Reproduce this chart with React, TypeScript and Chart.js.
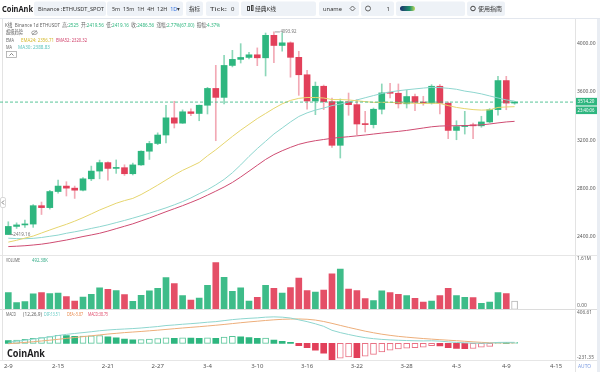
import React, { useEffect, useRef } from 'react';
import { Chart, registerables } from 'chart.js';

Chart.register(...registerables);

const FONT = '"Noto Sans", "Noto Sans CJK SC", sans-serif';
const UP = '#2EB67F';
const DOWN = '#E2405A';
const GRAY = '#666';

// ---- data (daily candles, Binance ETHUSDT) ----
const dates = [
  '2-9', '2-10', '2-11', '2-12', '2-13', '2-14', '2-15', '2-16', '2-17', '2-18',
  '2-19', '2-20', '2-21', '2-22', '2-23', '2-24', '2-25', '2-26', '2-27', '2-28',
  '2-29', '3-1', '3-2', '3-3', '3-4', '3-5', '3-6', '3-7', '3-8', '3-9',
  '3-10', '3-11', '3-12', '3-13', '3-14', '3-15', '3-16', '3-17', '3-18', '3-19',
  '3-20', '3-21', '3-22', '3-23', '3-24', '3-25', '3-26', '3-27', '3-28', '3-29',
  '3-30', '3-31', '4-1', '4-2', '4-3', '4-4', '4-5', '4-6', '4-7', '4-8',
  '4-9', '4-10',
];
const opens = [
  2419.56, 2486.56, 2499, 2506, 2658, 2642, 2775, 2820, 2803, 2786,
  2880, 2944, 3014, 2966, 2972, 2922, 2995, 3108, 3172, 3242,
  3384, 3340, 3434, 3420, 3488, 3627, 3553, 3817, 3867, 3883,
  3905, 3880, 4066, 3982, 4004, 3884, 3740, 3523, 3645, 3518,
  3157, 3517, 3493, 3333, 3328, 3455, 3590, 3587, 3500, 3560,
  3512, 3506, 3645, 3505, 3280, 3312, 3322, 3318, 3350, 3452,
  3692, 3506,
];
const highs = [
  2525, 2516, 2540, 2667, 2688, 2785, 2870, 2856, 2820, 2890,
  2985, 3035, 3020, 3036, 2996, 3010, 3112, 3190, 3260, 3488,
  3521, 3450, 3458, 3490, 3636, 3818, 3901, 3942, 3997, 3925,
  3962, 4085, 4093.92, 4087, 4012, 3934, 3776, 3680, 3655, 3548,
  3540, 3589, 3534, 3438, 3465, 3664, 3670, 3664, 3614, 3581,
  3562, 3658, 3658, 3515, 3360, 3438, 3341, 3397, 3460, 3727,
  3727, 3520,
];
const lows = [
  2419.16, 2470, 2478, 2479, 2585, 2630, 2762, 2738, 2718, 2780,
  2865, 2880, 2868, 2925, 2908, 2912, 2990, 3040, 3162, 3176,
  3300, 3338, 3402, 3360, 3416, 3195, 3498, 3805, 3837, 3870,
  3815, 3730, 3840, 3935, 3720, 3570, 3455, 3410, 3452, 3140,
  3052, 3405, 3245, 3267, 3300, 3416, 3548, 3465, 3465, 3443,
  3488, 3498, 3416, 3212, 3203, 3250, 3212, 3306, 3342, 3405,
  3451, 3496,
];
const closes = [
  2486.56, 2499, 2506, 2658, 2642, 2775, 2820, 2803, 2786, 2880,
  2944, 3014, 2966, 2972, 2922, 2995, 3108, 3172, 3242, 3384,
  3340, 3434, 3420, 3488, 3627, 3553, 3817, 3867, 3883, 3905,
  3880, 4066, 3982, 4004, 3884, 3740, 3523, 3645, 3518, 3157,
  3517, 3493, 3333, 3328, 3455, 3590, 3587, 3500, 3560, 3512,
  3506, 3645, 3505, 3280, 3312, 3322, 3318, 3350, 3452, 3692,
  3506, 3514.2,
];
// volume in thousands (K)
const volumes = [
  492.38, 198, 227, 455, 494, 465, 484, 376, 247, 366,
  445, 633, 593, 554, 435, 237, 415, 544, 623, 939,
  761, 405, 277, 336, 712, 1384, 949, 534, 633, 247,
  356, 712, 623, 484, 643, 929, 554, 514, 573, 1048,
  1196, 603, 554, 316, 257, 544, 494, 445, 405, 326,
  217, 247, 405, 623, 405, 356, 346, 178, 217, 494,
  465, 247,
];
const ema24 = [
  2357, 2372, 2390, 2407, 2432, 2457, 2481, 2504, 2530, 2559,
  2590, 2622, 2650, 2678, 2700, 2718, 2750, 2788, 2828, 2870,
  2912, 2950, 2982, 3015, 3070, 3120, 3175, 3230, 3282, 3330,
  3378, 3420, 3462, 3500, 3528, 3545, 3552, 3552, 3548, 3535,
  3535, 3532, 3525, 3518, 3512, 3512, 3512, 3508, 3506, 3504,
  3502, 3505, 3503, 3485, 3470, 3460, 3452, 3448, 3450, 3470,
  3474, 3476,
];
const ema52 = [
  2320, 2323, 2327, 2333, 2340, 2350, 2362, 2374, 2388, 2403,
  2416, 2430, 2448, 2468, 2488, 2508, 2532, 2556, 2582, 2608,
  2633, 2658, 2685, 2713, 2745, 2778, 2812, 2850, 2895, 2943,
  2992, 3040, 3080, 3112, 3140, 3165, 3182, 3195, 3205, 3215,
  3222, 3228, 3235, 3242, 3250, 3258, 3265, 3272, 3280, 3290,
  3300, 3310, 3316, 3318, 3319, 3320, 3322, 3326, 3333, 3342,
  3350, 3355,
];
const ma30 = [
  2389, 2386, 2385, 2388, 2395, 2405, 2415, 2430, 2442, 2455,
  2470, 2484, 2500, 2518, 2536, 2555, 2575, 2596, 2618, 2640,
  2665, 2692, 2722, 2757, 2790, 2830, 2875, 2930, 2995, 3065,
  3130, 3190, 3250, 3300, 3350, 3395, 3425, 3448, 3465, 3485,
  3498, 3515, 3532, 3550, 3568, 3585, 3598, 3608, 3616, 3623,
  3630, 3636, 3634, 3628, 3620, 3605, 3595, 3582, 3565, 3548,
  3532, 3522,
];
const dif = [
  13.51, 28, 42, 58, 73, 90, 108, 124, 136, 148,
  160, 174, 184, 192, 198, 204, 212, 222, 232, 246,
  254, 264, 272, 281, 292, 300, 314, 328, 338, 346,
  352, 362, 366, 362, 350, 325, 300, 270, 235, 180,
  148, 122, 98, 78, 64, 54, 47, 42, 38, 35,
  33, 35, 30, 20, 12, 6, 2, 0, 2, 12,
  13, 13,
];
const dea = [
  -5.87, 3, 12, 22, 32, 43, 55, 68, 80, 92,
  104, 116, 128, 138, 148, 156, 164, 173, 182, 192,
  202, 212, 221, 230, 240, 250, 261, 273, 285, 296,
  306, 316, 325, 332, 336, 337, 333, 322, 302, 276,
  248, 220, 194, 168, 146, 126, 110, 96, 85, 75,
  66, 58, 50, 43, 36, 28, 20, 13, 8, 6,
  6, 7,
];
const macdHist = [
  38.75, 45, 55, 68, 80, 92, 112, 108, 98, 100,
  104, 108, 90, 75, 58, 48, 52, 60, 66, 76,
  70, 74, 71, 68, 75, 70, 85, 95, 88, 80,
  68, 72, 44, 28, 8, -34, -60, -94, -137, -231.35,
  -205, -190, -198, -180, -154, -120, -94, -77, -68, -62,
  -52, -32, -38, -60, -70, -74, -72, -55, -42, 6,
  4, 5,
];
const axisLabels = ['2-9', '2-15', '2-21', '2-27', '3-4', '3-10', '3-16', '3-22', '3-28', '4-3', '4-9', '4-15'];
const priceTicks = [2400, 2800, 3200, 3600, 4000];
const lastPrice = 3514.2;
const countdown = '23:40:06';
const volAxisMax = 1610; // K
const macdTop = 406.61;
const macdBottom = -231.35;

function drawRich(
  ctx: CanvasRenderingContext2D, x: number, y: number,
  segs: [string, string][], size: number, targetW?: number, weight = 'normal',
) {
  ctx.save();
  ctx.font = `${weight} ${size}px ${FONT}`;
  const total = segs.reduce((s, [t]) => s + ctx.measureText(t).width, 0);
  const sx = targetW ? targetW / total : 1;
  ctx.translate(x, y);
  ctx.scale(sx, 1);
  ctx.textBaseline = 'middle';
  ctx.textAlign = 'left';
  let cx = 0;
  for (const [t, c] of segs) {
    ctx.fillStyle = c;
    ctx.fillText(t, cx, 0);
    cx += ctx.measureText(t).width;
  }
  ctx.restore();
}

function hline(ctx: CanvasRenderingContext2D, x0: number, x1: number, y: number, color: string) {
  ctx.strokeStyle = color;
  ctx.lineWidth = 1;
  ctx.beginPath();
  ctx.moveTo(x0, Math.round(y) + 0.5);
  ctx.lineTo(x1, Math.round(y) + 0.5);
  ctx.stroke();
}

function tbBox(ctx: CanvasRenderingContext2D, x0: number, x1: number) {
  ctx.fillStyle = '#eef2f7';
  ctx.beginPath();
  (ctx as any).roundRect(x0, 1.5, x1 - x0, 14.5, 2);
  ctx.fill();
}

function drawToolbar(ctx: CanvasRenderingContext2D) {
  const ty = 8.8;
  drawRich(ctx, 2, ty, [['CoinAnk', '#1d1d1f']], 9.5, 31, 'bold');
  tbBox(ctx, 34, 106);
  drawRich(ctx, 38, ty, [['Binance :ETHUSDT_SPOT', '#333']], 6, 66);
  tbBox(ctx, 107, 183);
  drawRich(ctx, 112, ty, [['5m  15m  1H  4H  12H  ', '#333'], ['1D', '#2f6fe0'], ['▾', '#333']], 6, 68);
  tbBox(ctx, 186, 203);
  drawRich(ctx, 189, ty, [['指标', '#333']], 6, 11);
  tbBox(ctx, 206, 239);
  drawRich(ctx, 210, ty, [['Tick:', '#333']], 6, 17);
  drawRich(ctx, 231, ty, [['0', '#333']], 6);
  tbBox(ctx, 241, 316);
  ctx.strokeStyle = '#444';
  ctx.lineWidth = 1;
  ctx.strokeRect(247.5, 6.5, 2, 4);
  ctx.strokeRect(251.5, 5.5, 1.5, 5);
  drawRich(ctx, 255, ty, [['经典K线', '#333']], 6, 21);
  tbBox(ctx, 319, 359);
  drawRich(ctx, 323, ty, [['uname', '#333']], 6, 19);
  ctx.strokeStyle = '#666';
  ctx.beginPath();
  ctx.moveTo(350, 8.5); ctx.lineTo(352.5, 6); ctx.lineTo(355, 8.5); ctx.lineTo(352.5, 11); ctx.closePath();
  ctx.stroke();
  tbBox(ctx, 361, 394);
  ctx.beginPath();
  ctx.arc(368, 8.5, 2.5, 0, Math.PI * 2);
  ctx.stroke();
  drawRich(ctx, 386.5, ty, [['1', '#333']], 6);
  tbBox(ctx, 396, 465);
  const g = ctx.createLinearGradient(400, 0, 416, 0);
  g.addColorStop(0, '#1b2f6e');
  g.addColorStop(0.6, '#1d8f6a');
  g.addColorStop(1, '#d9e45a');
  ctx.fillStyle = g;
  ctx.beginPath();
  (ctx as any).roundRect(400, 6, 15, 5, 2.5);
  ctx.fill();
  tbBox(ctx, 467, 505);
  ctx.strokeStyle = '#444';
  ctx.beginPath();
  ctx.arc(473, 8.5, 2.3, 0, Math.PI * 2);
  ctx.stroke();
  drawRich(ctx, 478, ty, [['使用指南', '#333']], 6, 24);
  hline(ctx, 0, 600, 18, '#e3e7ee');
}

const overlay = {
  id: 'overlay',
  afterDraw(chart: any) {
    const { ctx, chartArea, scales } = chart;
    const yP = scales.yPrice;
    const yV = scales.yVol;
    const yM = scales.yMacd;
    const xs = scales.x;
    const right = chartArea.right;
    ctx.save();

    drawToolbar(ctx);

    hline(ctx, 0, 600, yV.top, '#e6e6e6');
    hline(ctx, 0, 600, yM.top - 0.5, '#dcdcdc');
    hline(ctx, 0, 600, chartArea.bottom, '#e6e6e6');
    ctx.strokeStyle = '#e3e3e3';
    ctx.beginPath();
    ctx.moveTo(Math.round(right) + 0.5, 19);
    ctx.lineTo(Math.round(right) + 0.5, 372);
    ctx.moveTo(2.5, 19);
    ctx.lineTo(2.5, chartArea.bottom);
    ctx.stroke();
    ctx.fillStyle = '#e9edf3';
    ctx.fillRect(597, 19, 3, 353);

    ctx.fillStyle = '#fff';
    ctx.strokeStyle = '#d8d8d8';
    ctx.beginPath();
    (ctx as any).roundRect(0.5, 197.5, 5, 10, 1.5);
    ctx.fill();
    ctx.stroke();
    ctx.strokeStyle = '#777';
    ctx.beginPath();
    ctx.moveTo(4, 200.5); ctx.lineTo(2, 202.5); ctx.lineTo(4, 204.5);
    ctx.stroke();

    const py = yP.getPixelForValue(lastPrice);
    ctx.strokeStyle = UP;
    ctx.lineWidth = 0.8;
    ctx.setLineDash([3, 2]);
    ctx.beginPath();
    ctx.moveTo(chartArea.left, py);
    ctx.lineTo(right, py);
    ctx.stroke();
    ctx.setLineDash([]);
    ctx.fillStyle = UP;
    ctx.fillRect(right + 1, py - 4.2, 21, 7.6);
    ctx.fillRect(right + 1, py + 4.4, 21, 7.6);
    drawRich(ctx, right + 2.5, py - 0.4, [[lastPrice.toFixed(2), '#fff']], 5.2, 17);
    drawRich(ctx, right + 2.5, py + 8.2, [[countdown, '#fff']], 5.2, 17);

    let hiIdx = 0;
    let loIdx = 0;
    highs.forEach((v, i) => { if (v > highs[hiIdx]) hiIdx = i; });
    lows.forEach((v, i) => { if (v < lows[loIdx]) loIdx = i; });
    const hx = xs.getPixelForValue(hiIdx);
    const hy = yP.getPixelForValue(highs[hiIdx]);
    ctx.strokeStyle = '#888';
    ctx.lineWidth = 0.8;
    ctx.beginPath();
    ctx.moveTo(hx + 1, hy); ctx.lineTo(hx + 6, hy);
    ctx.stroke();
    drawRich(ctx, hx + 6.5, hy, [[highs[hiIdx].toFixed(2), '#777']], 5.2, 16);
    const lx = xs.getPixelForValue(loIdx);
    const ly = yP.getPixelForValue(lows[loIdx]);
    ctx.beginPath();
    ctx.moveTo(lx + 1, ly); ctx.lineTo(lx + 5, ly);
    ctx.stroke();
    drawRich(ctx, lx + 5, ly, [[lows[loIdx].toFixed(2), '#777']], 5.2, 17);

    drawRich(ctx, right + 2, yV.getPixelForValue(volAxisMax) + 3.5, [[(volAxisMax / 1000).toFixed(2) + 'M', GRAY]], 5, 14);
    drawRich(ctx, right + 2, yV.getPixelForValue(0) - 4, [['0.00', GRAY]], 5, 10);
    drawRich(ctx, right + 2, yM.getPixelForValue(macdTop) - 1.5, [[macdTop.toFixed(2), GRAY]], 5, 15);
    drawRich(ctx, right + 2, yM.getPixelForValue(macdBottom) - 2, [[macdBottom.toFixed(2), GRAY]], 5, 17);
    drawRich(ctx, 578, 367, [['AUTO', '#7b9be0']], 5, 13);

    const i0 = 0;
    drawRich(ctx, 5, 25, [
      ['K线  Binance 1d ETHUSDT  ', GRAY], ['高:', GRAY], [String(highs[i0]), UP],
      ['  开:', GRAY], [opens[i0].toFixed(2), UP], ['  低:', GRAY], [lows[i0].toFixed(2), UP],
      ['  收:', GRAY], [closes[i0].toFixed(2), UP], ['  涨幅:', GRAY], ['2.77%(67.00)', UP],
      ['  振幅:', GRAY], ['4.37%', UP],
    ], 5.5, 215);
    drawRich(ctx, 6, 32.7, [['超级趋势', GRAY]], 5.5, 17);
    ctx.strokeStyle = '#888';
    ctx.lineWidth = 0.8;
    ctx.beginPath();
    ctx.ellipse(34.5, 32.7, 2.8, 1.8, 0, 0, Math.PI * 2);
    ctx.stroke();
    ctx.beginPath();
    ctx.moveTo(32, 35); ctx.lineTo(37, 30.5);
    ctx.stroke();
    drawRich(ctx, 6, 40, [['EMA', GRAY]], 5.5, 8);
    drawRich(ctx, 21, 40, [['EMA24: 2356.71', '#d4b82a']], 5.5, 33);
    drawRich(ctx, 56, 40, [['EMA52: 2320.32', '#d0406a']], 5.5, 31);
    drawRich(ctx, 6, 47.3, [['MA', GRAY]], 5.5, 6);
    drawRich(ctx, 18, 47.3, [['MA30: 2388.83', '#5bc4be']], 5.5, 32);
    ctx.strokeStyle = '#aaa';
    ctx.lineWidth = 0.8;
    ctx.strokeRect(6.5, 51.5, 10, 6);
    ctx.strokeStyle = '#666';
    ctx.beginPath();
    ctx.moveTo(9.5, 55.5); ctx.lineTo(11.5, 53.5); ctx.lineTo(13.5, 55.5);
    ctx.stroke();

    drawRich(ctx, 6, 261, [['VOLUME', GRAY]], 5, 14);
    drawRich(ctx, 32, 261, [[volumes[i0].toFixed(2) + 'K', '#3aae8b']], 5, 16);
    drawRich(ctx, 6, 315, [['MACD', GRAY]], 5, 10);
    drawRich(ctx, 23, 315, [['(12,26,9)', GRAY]], 5, 19);
    drawRich(ctx, 44, 315, [['DIF:' + dif[i0].toFixed(2), '#5cc8c0']], 5, 16);
    drawRich(ctx, 67, 315, [['DEA:' + dea[i0].toFixed(2), '#e8884a']], 5, 16);
    drawRich(ctx, 88, 315, [['MACD:' + macdHist[i0].toFixed(2), '#e04a6a']], 5, 20);

    drawRich(ctx, 7, 354, [['CoinAnk', '#1d1d1f']], 11, 38, 'bold');

    ctx.restore();
  },
};

export default function App() {
  const ref = useRef<HTMLCanvasElement | null>(null);

  useEffect(() => {
    if (!ref.current) return;
    Chart.defaults.font.family = FONT;
    const idx = dates.map((_, i) => i);
    const isUp = idx.map((i) => closes[i] >= opens[i]);
    const last = dates.length - 1;

    const bodyColors = idx.map((i) => (isUp[i] ? UP : DOWN));
    const wickColors = idx.map((i) => (isUp[i] ? 'rgba(46,182,127,0.55)' : 'rgba(226,64,90,0.45)'));
    const volFill = idx.map((i) => (i === last ? '#ffffff' : isUp[i] ? 'rgba(46,182,127,0.92)' : 'rgba(226,64,90,0.92)'));
    const volBorder = idx.map((i) => (i === last ? '#b5b5b5' : isUp[i] ? UP : DOWN));
    const volBW = idx.map((i) => (i === last ? 1 : 0));
    const hollow = idx.map((i) => i > 0 && macdHist[i] > macdHist[i - 1]);
    const macdFill = idx.map((i) => (hollow[i] ? '#ffffff' : macdHist[i] >= 0 ? UP : DOWN));
    const macdBorder = idx.map((i) => (macdHist[i] >= 0 ? 'rgba(46,182,127,0.8)' : 'rgba(226,64,90,0.75)'));
    const macdBW = idx.map((i) => (hollow[i] ? 1 : 0));

    const line = (vals: number[], color: string, axis: string) => ({
      type: 'line' as const,
      data: idx.map((i) => ({ x: i, y: vals[i] })),
      yAxisID: axis,
      borderColor: color,
      borderWidth: 1,
      pointRadius: 0,
      tension: 0,
      order: 0,
    });

    const noPad = (s: any) => {
      s.paddingLeft = 0; s.paddingRight = 0; s.paddingTop = 0; s.paddingBottom = 0;
    };
    const fixRange = (min: number, max: number) => (s: any) => { s.min = min; s.max = max; };

    const rightAxis = (weight: number, min: number, max: number, extra: any = {}) => ({
      type: 'linear' as const,
      position: 'right' as const,
      stack: 'right',
      stackWeight: weight,
      bounds: 'data',
      min,
      max,
      grid: { display: false, drawTicks: false },
      border: { display: false },
      afterFit: (s: any) => { s.width = 25; noPad(s); },
      afterBuildTicks: fixRange(min, max),
      ...extra,
    });

    const X_MIN = -1;
    const X_MAX = 68.28;

    const chart = new Chart(ref.current, {
      type: 'bar',
      data: {
        datasets: [
          line(ema24, '#E6D56E', 'yPrice'),
          line(ema52, '#CF4C72', 'yPrice'),
          line(ma30, '#8ED6CF', 'yPrice'),
          line(dif, '#8ED6CF', 'yMacd'),
          line(dea, '#EDAE7A', 'yMacd'),
          {
            type: 'bar',
            data: idx.map((i) => ({ x: i, y: [lows[i], highs[i]] })),
            yAxisID: 'yPrice',
            backgroundColor: wickColors,
            barThickness: 1,
            grouped: false,
            order: 3,
          } as any,
          {
            type: 'bar',
            data: idx.map((i) => ({ x: i, y: [opens[i], closes[i]] })),
            yAxisID: 'yPrice',
            backgroundColor: bodyColors,
            barThickness: 6,
            minBarLength: 1,
            grouped: false,
            order: 2,
          } as any,
          {
            type: 'bar',
            data: idx.map((i) => ({ x: i, y: volumes[i] })),
            yAxisID: 'yVol',
            backgroundColor: volFill,
            borderColor: volBorder,
            borderWidth: volBW,
            borderSkipped: false,
            barThickness: 6,
            grouped: false,
            order: 2,
          } as any,
          {
            type: 'bar',
            data: idx.map((i) => ({ x: i, y: macdHist[i] })),
            yAxisID: 'yMacd',
            backgroundColor: macdFill,
            borderColor: macdBorder,
            borderWidth: macdBW,
            borderSkipped: false,
            barThickness: 6,
            minBarLength: 1,
            grouped: false,
            order: 2,
          } as any,
        ],
      },
      options: {
        responsive: false,
        maintainAspectRatio: false,
        animation: false,
        devicePixelRatio: 1,
        events: [],
        layout: { padding: { top: 19, left: 0, right: 0, bottom: 0 }, autoPadding: false },
        plugins: { legend: { display: false }, tooltip: { enabled: false } },
        scales: {
          x: {
            type: 'linear',
            position: 'bottom',
            bounds: 'data',
            offset: false,
            min: X_MIN,
            max: X_MAX,
            grid: { display: false, drawTicks: false },
            border: { display: false },
            afterFit: (s: any) => { s.height = 12; noPad(s); },
            afterBuildTicks: (s: any) => {
              s.ticks = axisLabels.map((_, i) => ({ value: i * 6 }));
              s.min = X_MIN;
              s.max = X_MAX;
            },
            ticks: {
              autoSkip: false,
              maxRotation: 0,
              padding: 3,
              color: '#555',
              font: { size: 6 },
              callback: (v: any) => axisLabels[Math.round(Number(v) / 6)] ?? '',
            },
          },
          yPrice: rightAxis(236, 2250.4, 4200.8, {
            afterBuildTicks: (s: any) => {
              s.ticks = priceTicks.map((v) => ({ value: v }));
              s.min = 2250.4;
              s.max = 4200.8;
            },
            ticks: { padding: 2, color: '#555', font: { size: 5 }, callback: (v: any) => Number(v).toFixed(2) },
          }),
          yVol: rightAxis(54.3, 0, volAxisMax, { ticks: { display: false } }),
          yMacd: rightAxis(50.7, macdBottom, 470.9, { ticks: { display: false } }),
        } as any,
      },
      plugins: [overlay],
    });
    return () => chart.destroy();
  }, []);

  return (
    <div style={{ position: 'fixed', left: 0, top: 0, width: 600, height: 372, background: '#fff' }}>
      <canvas ref={ref} width={600} height={372} style={{ display: 'block', width: 600, height: 372 }} />
    </div>
  );
}
